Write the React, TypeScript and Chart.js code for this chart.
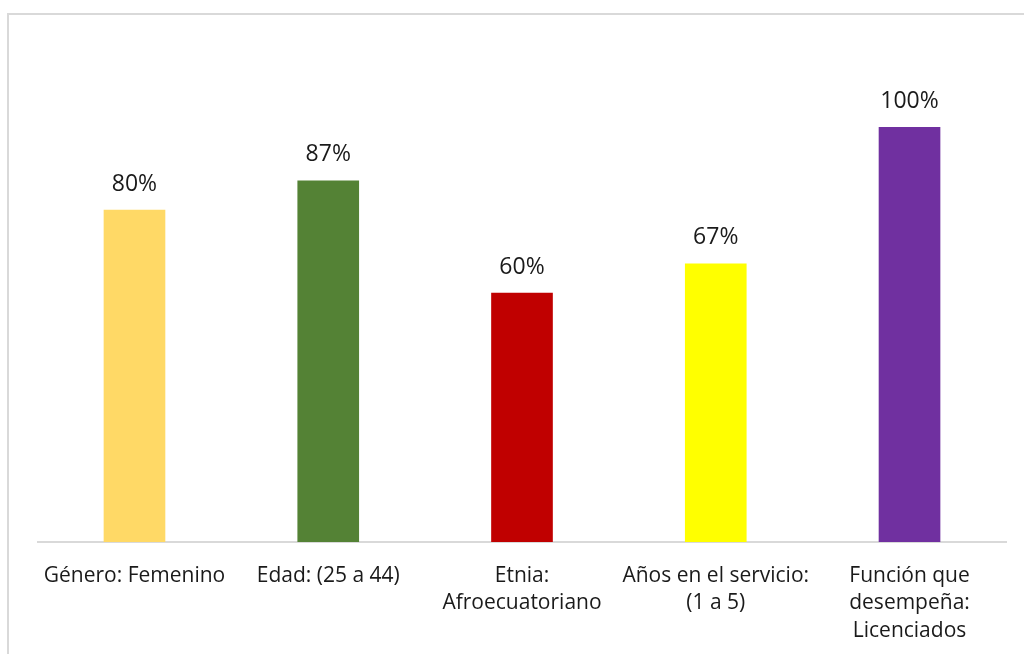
import React, { useEffect, useRef } from "react";
import { Chart, registerables } from "chart.js";

Chart.register(...registerables);

const categories: string[][] = [
  ["Género: Femenino"],
  ["Edad: (25 a 44)"],
  ["Etnia:", "Afroecuatoriano"],
  ["Años en el servicio:", "(1 a 5)"],
  ["Función que", "desempeña:", "Licenciados"],
];
const values: number[] = [80, 87, 60, 67, 100];
const barColors: string[] = ["#FFD966", "#548235", "#C00000", "#FFFF00", "#7030A0"];

const FONT = "'Open Sans', sans-serif";

const valueLabels = {
  id: "valueLabels",
  afterDatasetsDraw(chart: any) {
    const ctx = chart.ctx;
    const meta = chart.getDatasetMeta(0);
    ctx.save();
    ctx.font = `23px ${FONT}`;
    ctx.fillStyle = "#1a1a1a";
    ctx.textAlign = "center";
    ctx.textBaseline = "middle";
    meta.data.forEach((bar: any, i: number) => {
      ctx.fillText(values[i] + "%", bar.x, bar.y - 26);
    });
    ctx.restore();
  },
};

export default function App() {
  const ref = useRef<HTMLCanvasElement | null>(null);
  useEffect(() => {
    if (!ref.current) return;
    const chart = new Chart(ref.current, {
      type: "bar",
      data: {
        labels: categories,
        datasets: [
          {
            data: values,
            backgroundColor: barColors,
            barThickness: 61,
          },
        ],
      },
      options: {
        animation: false,
        responsive: false,
        maintainAspectRatio: false,
        layout: { padding: { left: 37.6, right: 17.6, top: 127, bottom: 0 } },
        plugins: { legend: { display: false }, tooltip: { enabled: false } },
        scales: {
          x: {
            grid: { display: false, drawTicks: false },
            border: { display: true, color: "#d9d9d9", width: 2 },
            ticks: {
              color: "#1a1a1a",
              font: { family: FONT, size: 21, lineHeight: 1.31 },
              padding: 20,
              maxRotation: 0,
              autoSkip: false,
            },
            afterFit(scale: any) {
              scale.height = 112;
            },
          },
          y: { display: false, min: 0, max: 100 },
        },
      },
      plugins: [valueLabels],
    });
    return () => chart.destroy();
  }, []);
  return (
    <div style={{ position: "absolute", left: 0, top: 0, width: 1024, height: 654, overflow: "hidden", background: "#fff" }}>
      <div
        style={{
          position: "absolute",
          left: 7,
          top: 13,
          width: 1100,
          height: 700,
          borderTop: "2px solid #d9d9d9",
          borderLeft: "2px solid #d9d9d9",
        }}
      />
      <canvas ref={ref} width={1024} height={654} style={{ position: "absolute", left: 0, top: 0, width: 1024, height: 654 }} />
    </div>
  );
}
